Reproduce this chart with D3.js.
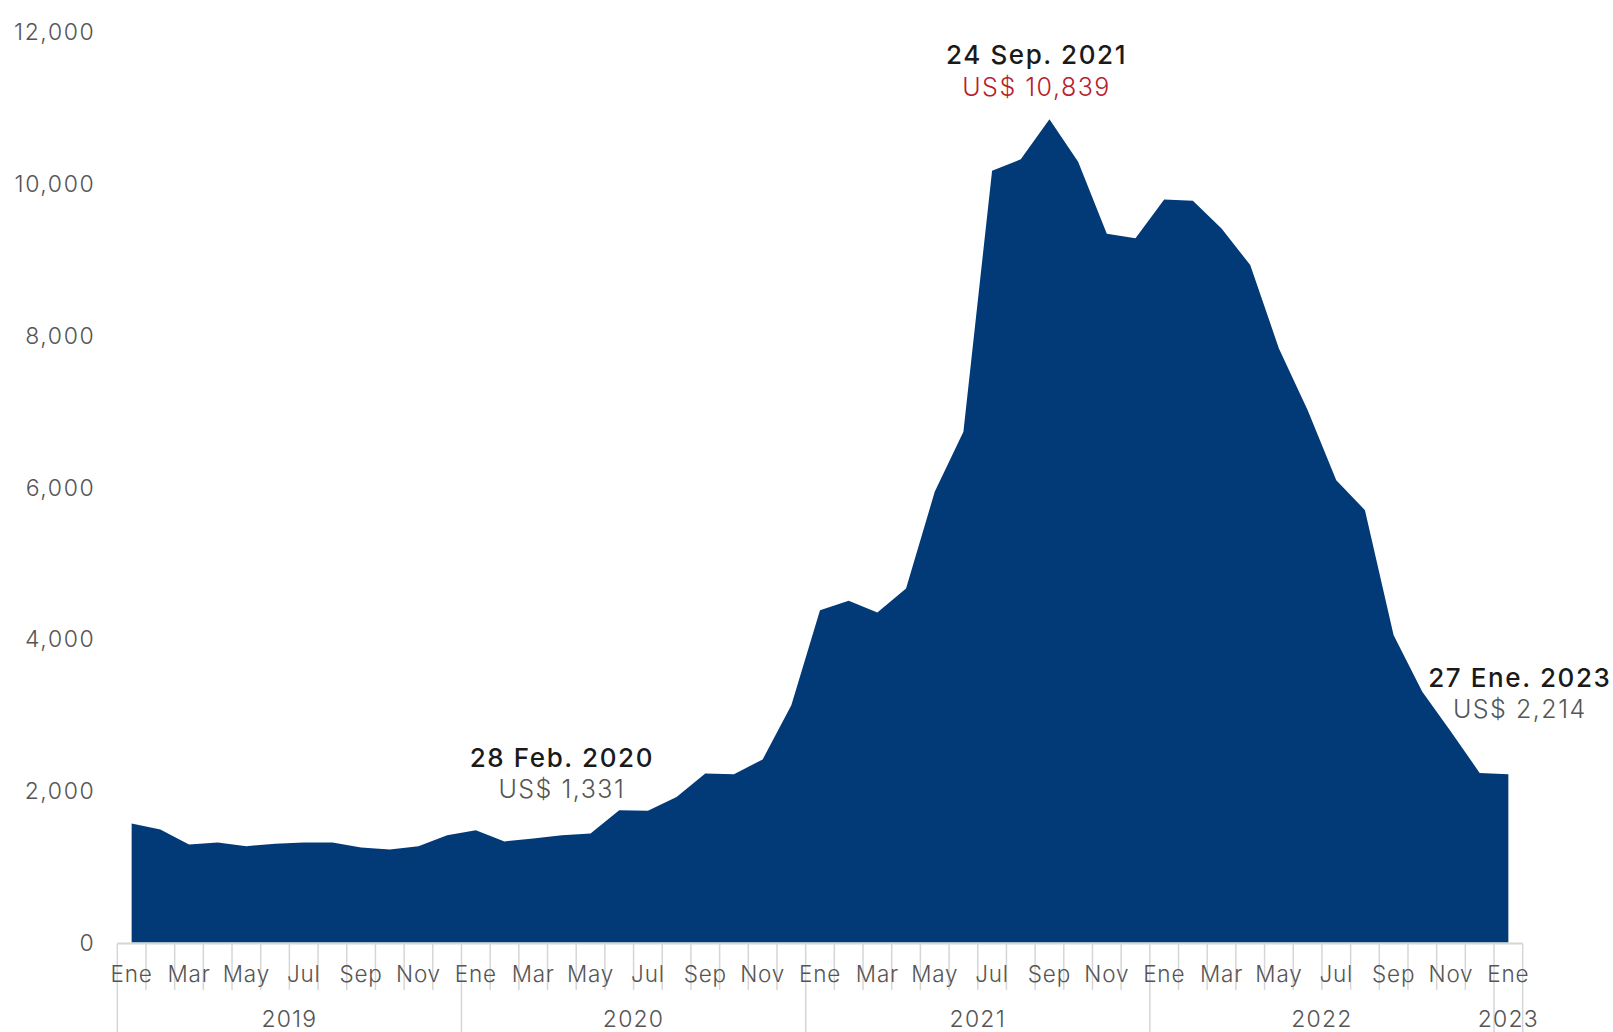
<!DOCTYPE html>
<html>
<head>
<meta charset="utf-8">
<script src="https://cdn.jsdelivr.net/npm/d3@7"></script>
<style>
  html, body { margin: 0; padding: 0; background: #fff; }
  svg { display: block; }
</style>
</head>
<body>
<svg id="chart" width="1613" height="1032"></svg>
<script>
// ---- Data ----
const years = [2019, 2020, 2021, 2022, 2023];
const monthNames = ["Ene","Feb","Mar","Abr","May","Jun","Jul","Ago","Sep","Oct","Nov","Dic"];
const values2019 = [1567, 1488, 1290, 1317, 1268, 1300, 1317, 1317, 1251, 1225, 1268, 1413];
const values2020 = [1479, 1331, 1369, 1413, 1435, 1742, 1735, 1917, 2225, 2216, 2410, 3125];
const values2021 = [4375, 4498, 4345, 4661, 5933, 6723, 10160, 10310, 10839, 10278, 9330, 9270];
const values2022 = [9783, 9765, 9401, 8918, 7821, 7009, 6087, 5692, 4046, 3300, 2773, 2233];
const values2023 = [2214];
const yTicks = [0, 2000, 4000, 6000, 8000, 10000, 12000];
const tickMonths = ["Ene","Mar","May","Jul","Sep","Nov"];
const annotations = [
  { year: 2020, month: 1, date: "28 Feb. 2020", label: "US$ 1,331", color: "#555555", dx: 2, dyTitle: -84, dyValue: -52 },
  { year: 2021, month: 8, date: "24 Sep. 2021", label: "US$ 10,839", color: "#b8202e", dx: -0.45, dyTitle: -65, dyValue: -32 },
  { year: 2023, month: 0, date: "27 Ene. 2023", label: "US$ 2,214", color: "#555555", dx: 0.4, dyTitle: -97, dyValue: -65 }
];

(function () {
// ---- Build rows ----
const seriesByYear = [values2019, values2020, values2021, values2022, values2023];
const data = [];
seriesByYear.forEach((vals, yi) => {
  vals.forEach((v, mi) => data.push({ key: years[yi] + "-" + mi, year: years[yi], month: mi, value: v }));
});

// ---- Layout ----
const svg = d3.select("#chart");
const mLeft = 117.3, mRight = 1522.7, mTop = 31, mBottom = 942.5;
const x = d3.scaleBand().domain(data.map(d => d.key)).range([mLeft, mRight]).padding(0);
const y = d3.scaleLinear().domain([0, 12000]).range([mBottom, mTop]);
const cx = d => x(d.key) + x.bandwidth() / 2;

const grey = "#555555";
const lineGrey = "#d6d6d6";
const lightFont = "Inter, Lato, 'Open Sans', sans-serif";

// Area
const area = d3.area()
  .x(cx)
  .y0(y(0))
  .y1(d => y(d.value))
  .curve(d3.curveLinear);

svg.append("path")
  .datum(data)
  .attr("d", area)
  .attr("fill", "#023a78");

// Y axis
const yAxis = svg.append("g")
  .attr("transform", `translate(${mLeft},0)`)
  .call(d3.axisLeft(y).tickValues(yTicks).tickSize(0).tickPadding(22).tickFormat(d3.format(",")));
yAxis.select(".domain").remove();
yAxis.selectAll("text")
  .attr("font-family", lightFont)
  .attr("font-weight", 300)
  .attr("font-size", 23)
  .attr("letter-spacing", "1.6px")
  .attr("fill", grey)
  .attr("dy", "0.36em");

// X axis line
svg.append("line")
  .attr("x1", mLeft).attr("x2", mRight)
  .attr("y1", mBottom + 1).attr("y2", mBottom + 1)
  .attr("stroke", lineGrey).attr("stroke-width", 2);

// Boundary ticks
const boundaries = data.map(d => ({ pos: x(d.key), long: d.month === 0 }));
boundaries.push({ pos: mRight, long: true });
svg.append("g").selectAll("line")
  .data(boundaries)
  .join("line")
  .attr("x1", d => d.pos).attr("x2", d => d.pos)
  .attr("y1", mBottom + 1)
  .attr("y2", d => d.long ? 1032 : 990)
  .attr("stroke", lineGrey)
  .attr("stroke-width", 1.5);

// Month labels
const xAxis = svg.append("g")
  .attr("transform", `translate(0,${mBottom})`)
  .call(d3.axisBottom(x)
    .tickValues(data.filter(d => tickMonths.includes(monthNames[d.month])).map(d => d.key))
    .tickSize(0)
    .tickFormat(k => monthNames[+k.split("-")[1]]));
xAxis.select(".domain").remove();
xAxis.selectAll("text")
  .attr("y", 31)
  .attr("dy", "0.36em")
  .attr("font-family", lightFont)
  .attr("font-weight", 300)
  .attr("font-size", 22.5)
  .attr("letter-spacing", "0.8px")
  .attr("fill", grey);

// Year labels
const yearGroups = years.map(yr => {
  const rows = data.filter(d => d.year === yr);
  const x0 = x(rows[0].key);
  const x1 = x(rows[rows.length - 1].key) + x.bandwidth();
  return { year: yr, mid: (x0 + x1) / 2 };
});
svg.append("g").selectAll("text")
  .data(yearGroups)
  .join("text")
  .attr("x", d => d.mid)
  .attr("y", 1019)
  .attr("dy", "0.36em")
  .attr("text-anchor", "middle")
  .attr("font-family", lightFont)
  .attr("font-weight", 300)
  .attr("font-size", 23)
  .attr("letter-spacing", "1.2px")
  .attr("fill", grey)
  .text(d => d.year);

// Annotations
const ann = svg.append("g");
annotations.forEach(a => {
  const d = data.find(r => r.year === a.year && r.month === a.month);
  const px = cx(d) + a.dx * x.bandwidth();
  const py = y(d.value);
  ann.append("text")
    .attr("x", px).attr("y", py + a.dyTitle)
    .attr("dy", "0.36em")
    .attr("text-anchor", "middle")
    .attr("font-family", "Inter, Lato, sans-serif")
    .attr("font-weight", 500)
    .attr("font-size", 26)
    .attr("letter-spacing", "1.6px")
    .attr("fill", "#1a1a1a")
    .text(a.date);
  ann.append("text")
    .attr("x", px).attr("y", py + a.dyValue)
    .attr("dy", "0.36em")
    .attr("text-anchor", "middle")
    .attr("font-family", lightFont)
    .attr("font-weight", 300)
    .attr("font-size", 25)
    .attr("letter-spacing", "1.5px")
    .attr("fill", a.color)
    .text(a.label);
});
})();
</script>
</body>
</html>
